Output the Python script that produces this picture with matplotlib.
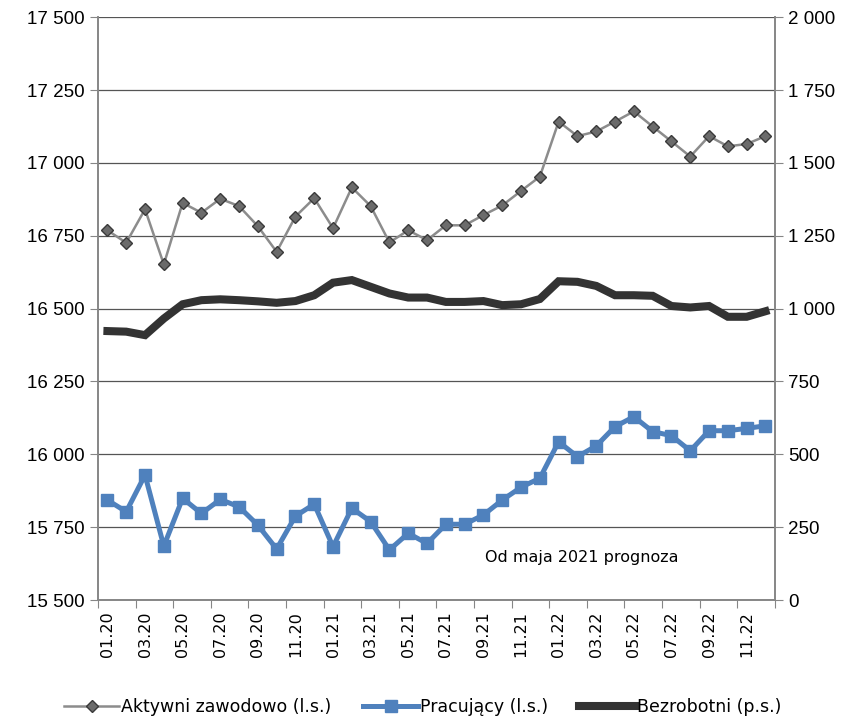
import numpy as np
import matplotlib
matplotlib.use("Agg")
import matplotlib.pyplot as plt
from matplotlib.ticker import FuncFormatter, FixedLocator

# Monthly data 01.20 - 12.22 (thousands)
months = [f"{m:02d}.{y}" for y in (20, 21, 22) for m in range(1, 13)]

aktywni = [16769, 16726, 16841, 16652, 16863, 16829, 16877, 16852, 16783, 16695,
           16816, 16879, 16776, 16916, 16852, 16727, 16769, 16735, 16786, 16786,
           16821, 16854, 16904, 16953, 17142, 17092, 17108, 17142, 17177, 17125,
           17074, 17022, 17092, 17057, 17065, 17092]

pracujacy = [15843, 15803, 15929, 15685, 15849, 15797, 15845, 15820, 15757, 15675,
             15788, 15829, 15683, 15815, 15769, 15672, 15729, 15694, 15760, 15760,
             15792, 15843, 15887, 15918, 16043, 15992, 16029, 16095, 16129, 16078,
             16064, 16012, 16081, 16081, 16089, 16098]

bezrobotni = [923, 921, 909, 966, 1015, 1029, 1032, 1029, 1025, 1020,
              1026, 1046, 1089, 1098, 1075, 1052, 1038, 1038, 1023, 1023,
              1026, 1012, 1015, 1033, 1094, 1092, 1078, 1046, 1046, 1044,
              1009, 1004, 1009, 972, 972, 991]

labels = ["Aktywni zawodowo (l.s.)", "Pracujący (l.s.)", "Bezrobotni (p.s.)"]
note = "Od maja 2021 prognoza"

plt.rcParams["font.family"] = ["DejaVu Sans"]

fig = plt.figure(figsize=(8.45, 7.19), dpi=100)
ax = fig.add_axes([0.116, 0.1655, 0.801, 0.8105])
ax2 = ax.twinx()

x = np.arange(len(months))
axis_col = "#868686"
grid_col = "#555555"

l1, = ax.plot(x, aktywni, color="#8c8c8c", lw=1.8, marker="D", ms=6,
              mfc="#6b6b6b", mec="#3a3a3a", mew=1.0, zorder=3)
l2, = ax.plot(x, pracujacy, color="#4f81bd", lw=3.6, marker="s", ms=8,
              mfc="#4f81bd", mec="#4f81bd", zorder=3)
l3, = ax2.plot(x, bezrobotni, color="#333333", lw=5.8, solid_joinstyle="miter", zorder=3)

ax.set_xlim(-0.5, len(months) - 0.5)
ax.set_ylim(15500, 17500)
ax2.set_ylim(0, 2000)
ax.set_yticks(np.arange(15500, 17501, 250))
ax2.set_yticks(np.arange(0, 2001, 250))

fmt = FuncFormatter(lambda v, p: f"{int(v):,}".replace(",", " "))
ax.yaxis.set_major_formatter(fmt)
ax2.yaxis.set_major_formatter(fmt)

ax.grid(axis="y", color=grid_col, lw=0.9)
ax.set_axisbelow(True)

# x ticks: marks at category boundaries, labels at every second month
ax.xaxis.set_major_locator(FixedLocator(np.arange(-0.5, len(months), 2)))
ax.xaxis.set_minor_locator(FixedLocator(x[::2]))
ax.set_xticklabels([], minor=False)
ax.set_xticklabels(months[::2], minor=True, rotation=90, fontsize=11.5)
ax.tick_params(axis="x", which="major", length=6, color=axis_col)
ax.tick_params(axis="x", which="minor", length=0, pad=8)

ynum_font = ["Liberation Sans Narrow", "Liberation Sans", "DejaVu Sans"]
ax.tick_params(axis="y", length=6, color=axis_col, labelsize=13.5)
ax2.tick_params(axis="y", length=6, color=axis_col, labelsize=13.5)
for t in ax.get_yticklabels() + ax2.get_yticklabels():
    t.set_family(ynum_font)

for a in (ax, ax2):
    a.spines["top"].set_visible(False)
    for s in ("left", "right", "bottom"):
        a.spines[s].set_color(axis_col)
        a.spines[s].set_linewidth(1.2)

ax.text(20.1, 15645, note, fontsize=11.5, va="center", ha="left")

fig.legend([l1, l2, l3], labels, loc="lower center", bbox_to_anchor=(0.5, -0.018),
           ncol=3, frameon=False, fontsize=12.5, handlelength=3.2,
           handletextpad=0.1, columnspacing=1.8)

fig.savefig("out.png", dpi=100)
